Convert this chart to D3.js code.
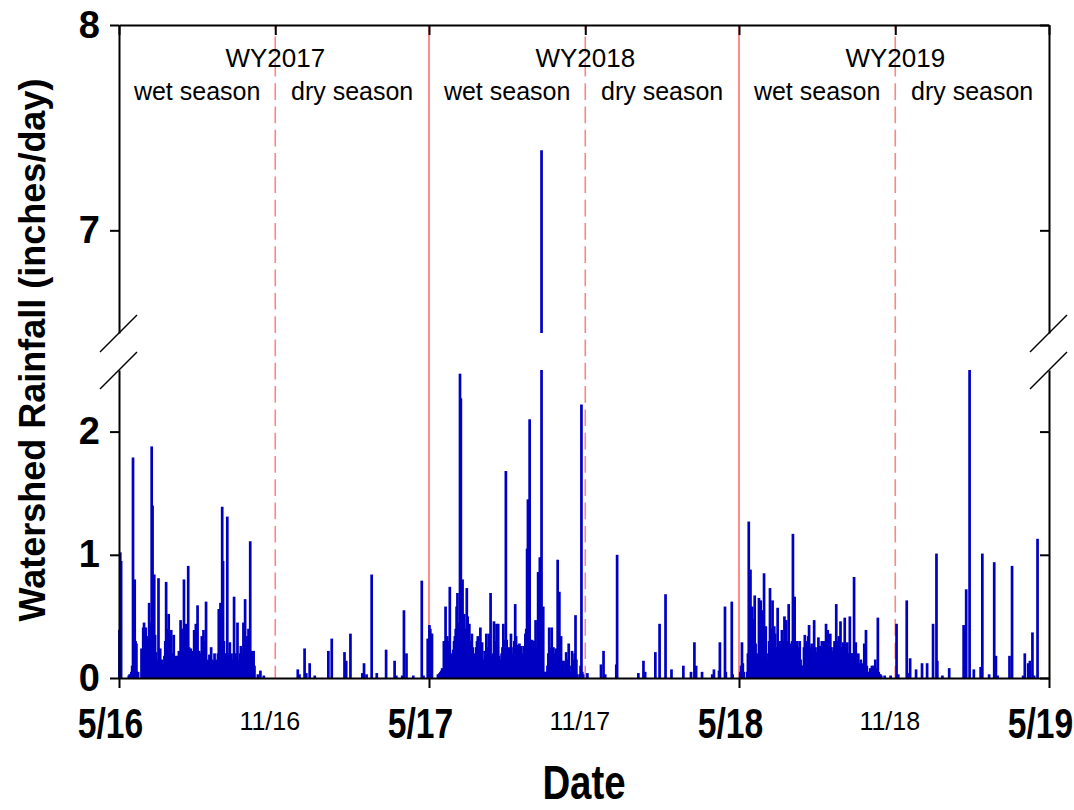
<!DOCTYPE html>
<html>
<head>
<meta charset="utf-8">
<script src="https://cdn.jsdelivr.net/npm/d3@7"></script>
<style>
  html, body { margin: 0; padding: 0; background: #ffffff; }
  svg { display: block; font-family: Arial, "Liberation Sans", Helvetica, sans-serif; }
</style>
</head>
<body>
<svg id="chart" width="1074" height="810"></svg>
<script>
// ---------------------------------------------------------------
// Daily watershed rainfall (inches/day), May 2016 - April 2019
// Wet seasons: one value per day starting May 1.
// Dry seasons: only rainy days, as day offsets from November 1.
// ---------------------------------------------------------------
const wet2016Start = "2016-05-01";
const wet2016Rain = [
  0.39, 1.02, 0.95, 0, 0, 0, 0, 0, 0, 0,
  0, 0.02, 0.03, 0.03, 0.05, 0.10, 1.79, 0.50, 0.80, 0.30,
  0.28, 0.05, 0.05, 0, 0, 0, 0.24, 0.15, 0.41, 0.45,
  0.30, 0.41, 0.20, 0.34, 0.25, 0.61, 0.30, 0.45, 1.88, 1.40,
  0.50, 0.84, 0.35, 0.21, 0.15, 0.10, 0.81, 0.20, 0.24, 0.12,
  0.15, 0.12, 0.10, 0.18, 0.30, 0.78, 0.25, 0.40, 0.52, 0.30,
  0.20, 0.39, 0.15, 0.20, 0.35, 0.12, 0.18, 0.10, 0.18, 0.12,
  0.22, 0.15, 0.47, 0.30, 0.40, 0.20, 0.80, 0.30, 0.44, 0.20,
  0.15, 0.91, 0.25, 0.20, 0.24, 0.15, 0.22, 0.12, 0.39, 0.20,
  0.44, 0.25, 0.59, 0.20, 0.22, 0.15, 0.20, 0.34, 0.20, 0.39,
  0.25, 0.30, 0.62, 0.15, 0.14, 0.12, 0.19, 0.10, 0.25, 0.15,
  0.14, 0.10, 0.20, 0.12, 0.14, 0.15, 0.20, 0.56, 0.30, 0.61,
  0.25, 1.39, 0.95, 0.30, 0.20, 0.20, 0.19, 1.31, 0.15, 0.20,
  0.29, 0.15, 0.20, 0.12, 0.15, 0.66, 0.20, 0.18, 0.20, 0.45,
  0.15, 0.10, 0.20, 0.26, 0.15, 0.20, 0.45, 0.30, 0.64, 0.20,
  0.34, 0.25, 0.40, 0.30, 1.11, 0.20, 0.22, 0.15, 0.22, 0.10,
  0, 0, 0, 0.03, 0, 0, 0.06, 0, 0, 0,
  0.02, 0, 0, 0, 0, 0, 0, 0, 0, 0,
  0, 0, 0, 0
];

const dry2017Start = "2016-11-01";
const dry2017Days = [26, 28, 34, 36, 40, 46, 62, 66, 81, 83, 88, 102, 104, 107, 113, 119, 130, 140, 142, 149, 151, 154, 162, 172, 174, 179];
const dry2017Rain = [0.07, 0.03, 0.24, 0.04, 0.12, 0.02, 0.22, 0.32, 0.21, 0.14, 0.36, 0.04, 0.12, 0.03, 0.84, 0.04, 0.23, 0.14, 0.02, 0.02, 0.55, 0.20, 0.02, 0.79, 0.02, 0.32];

const wet2017Start = "2017-05-01";
const wet2017Rain = [
  0.43, 0.40, 0.36, 0.36, 0, 0, 0, 0, 0, 0,
  0.03, 0.03, 0.04, 0.05, 0.06, 0.08, 0.06, 0.30, 0.20, 0.58,
  0.20, 0.34, 0.05, 0.30, 0.74, 0.06, 0.06, 0.20, 0.23, 0.30,
  0.34, 0.40, 0.58, 0.69, 0.20, 0.45, 2.47, 2.27, 0.50, 0.80,
  0.50, 0.52, 0.30, 0.40, 0.73, 0.50, 0.30, 0.44, 0.30, 0.20,
  0.36, 0.25, 0.13, 0.20, 0.10, 0.25, 0.30, 0.34, 0.25, 0.20,
  0.41, 0.20, 0.29, 0.15, 0.12, 0.22, 0.15, 0.36, 0.20, 0.25,
  0.36, 0.18, 0.69, 0.18, 0.12, 0.20, 0.46, 0.25, 0.30, 0.44,
  0.20, 0.44, 0.18, 0.15, 0.12, 0.20, 0.25, 0.44, 0.31, 0.20,
  1.68, 0.31, 0.20, 0.15, 0.25, 0.20, 0.36, 0.15, 0.20, 0.25,
  0.30, 0.60, 0.34, 0.20, 0.27, 0.15, 0.28, 0.20, 0.26, 0.15,
  0.20, 0.26, 0.15, 0.36, 0.40, 1.05, 1.45, 0.30, 2.10, 0.31,
  0.20, 0.31, 0.15, 0.30, 0.20, 0.47, 0.25, 0.20, 0.86, 0.40,
  0.98, 0.30, 7.39, 0.20, 0.58, 0.05, 0.05, 0, 0.05, 0.10,
  0.20, 0.41, 0.25, 0.20, 0.41, 0.15, 0.25, 0.20, 0.15, 0.24,
  0.20, 0.96, 0.30, 0.70, 0.20, 0.34, 0.14, 0.10, 0.14, 0.05,
  0.05, 0.21, 0.15, 0.10, 0.28, 0.10, 0.03, 0.05, 0.22, 0.15,
  0.10, 0.20, 0.51, 0.15, 0.03, 0, 0, 0.03, 0.10, 2.22,
  0.05, 0.03, 0, 0
];

const dry2018Start = "2017-11-01";
const dry2018Days = [2, 18, 21, 23, 36, 37, 62, 68, 70, 82, 87, 94, 101, 115, 124, 128, 130, 137, 149, 151, 157, 158, 164, 165, 172, 173];
const dry2018Rain = [0.04, 0.11, 0.22, 0.03, 0.11, 1.00, 0.04, 0.14, 0.05, 0.21, 0.44, 0.68, 0.07, 0.10, 0.05, 0.29, 0.10, 0.05, 0.03, 0.07, 0.06, 0.29, 0.58, 0.05, 0.62, 0.03];

const wet2018Start = "2018-05-01";
const wet2018Rain = [
  0, 0.05, 0.10, 0.29, 0.12, 0.05, 0, 0, 0, 0.05,
  0.20, 1.27, 0.40, 0.88, 0.30, 0.58, 0.48, 0.25, 0.67, 0.28,
  0.15, 0.20, 0.10, 0.65, 0.30, 0.63, 0.20, 0.25, 0.55, 0.85,
  0.30, 0.42, 0.20, 0.10, 0.15, 0.30, 0.73, 0.40, 0.25, 0.63,
  0.30, 0.42, 0.36, 0.20, 0.25, 0.57, 0.15, 0.07, 0.30, 0.25,
  0.39, 0.30, 0.25, 0.50, 0.30, 0.47, 0.25, 0.30, 0.60, 0.20,
  0.28, 0.25, 0.30, 1.17, 0.40, 0.66, 0.30, 0.25, 0.30, 0.25,
  0.20, 0.30, 0.15, 0.10, 0.06, 0.10, 0.25, 0.35, 0.20, 0.25,
  0.30, 0.34, 0.43, 0.25, 0.20, 0.28, 0.20, 0.15, 0.47, 0.25,
  0.20, 0.21, 0.25, 0.33, 0.20, 0.26, 0.20, 0.30, 0.25, 0.20,
  0.30, 0.25, 0.44, 0.30, 0.39, 0.25, 0.20, 0.36, 0.25, 0.22,
  0.20, 0.25, 0.30, 0.20, 0.60, 0.25, 0.30, 0.34, 0.25, 0.46,
  0.20, 0.25, 0.29, 0.20, 0.49, 0.25, 0.20, 0.29, 0.20, 0.15,
  0.50, 0.20, 0.20, 0.15, 0.20, 0.82, 0.20, 0.29, 0.15, 0.12,
  0.20, 0.12, 0.10, 0.15, 0.12, 0.10, 0.08, 0.28, 0.15, 0.39,
  0.10, 0.05, 0.03, 0.05, 0.08, 0.05, 0.10, 0.06, 0.10, 0.08,
  0.15, 0.06, 0.08, 0.49, 0.05, 0.03, 0.03, 0.02, 0, 0,
  0, 0.02, 0, 0, 0, 0, 0, 0, 0.02, 0,
  0, 0, 0, 0
];

const dry2019Start = "2018-11-01";
const dry2019Days = [1, 3, 13, 14, 17, 24, 31, 37, 44, 48, 49, 55, 63, 80, 83, 87, 92, 100, 102, 110, 116, 118, 120, 134, 137, 150, 152, 156, 158, 161, 163, 167];
const dry2019Rain = [0.44, 0.03, 0.63, 0.04, 0.16, 0.07, 0.12, 0.12, 0.44, 1.01, 0.14, 0.02, 0.08, 0.43, 0.72, 2.50, 0.07, 0.09, 1.01, 0.03, 0.94, 0.18, 0.02, 0.18, 0.91, 0.02, 0.20, 0.12, 0.14, 0.37, 0.02, 1.13];

// Axis ticks and period labels
const yearTicks = ["2016-05-01", "2017-05-01", "2018-05-01", "2019-05-01"];
const halfYearTicks = ["2016-11-01", "2017-11-01", "2018-11-01"];
const lowerTicks = [0, 1, 2];
const upperTicks = [7, 8];
const waterYears = ["WY2017", "WY2018", "WY2019"];
const seasonNames = ["wet season", "dry season"];

// ---------------------------------------------------------------
const parse = d3.utcParse("%Y-%m-%d");
const records = [];
function addDaily(start, values) {
  const s = parse(start);
  values.forEach((v, i) => records.push({ date: d3.utcDay.offset(s, i), v }));
}
function addSparse(start, days, values) {
  const s = parse(start);
  days.forEach((d, i) => records.push({ date: d3.utcDay.offset(s, d), v: values[i] }));
}
addDaily(wet2016Start, wet2016Rain);
addSparse(dry2017Start, dry2017Days, dry2017Rain);
addDaily(wet2017Start, wet2017Rain);
addSparse(dry2018Start, dry2018Days, dry2018Rain);
addDaily(wet2018Start, wet2018Rain);
addSparse(dry2019Start, dry2019Days, dry2019Rain);
const rainy = records.filter(d => d.v > 0);

const svg = d3.select("#chart");
const left = 119, right = 1049;
const lowBottom = 678, lowTop = 370, upBottom = 333, upTop = 25;

const x = d3.scaleUtc()
  .domain([parse(yearTicks[0]), parse(yearTicks[yearTicks.length - 1])])
  .range([left, right]);
const yLow = d3.scaleLinear().domain([0, 2.5]).range([lowBottom, lowTop]);
const yUp = d3.scaleLinear().domain([6.5, 8]).range([upBottom, upTop]);

const dayW = x(parse("2016-05-02")) - x(parse("2016-05-01"));
const barW = 2.7;
const cx = d => x(d.date) + dayW / 2;

// Season boundary lines
const gLines = svg.append("g");
gLines.selectAll("line.wy")
  .data(yearTicks.slice(1, -1).map(parse))
  .join("line")
  .attr("x1", d => x(d)).attr("x2", d => x(d))
  .attr("y1", upTop).attr("y2", lowBottom)
  .attr("stroke", "#ff6e6e").attr("stroke-width", 1.6);
gLines.selectAll("line.season")
  .data(halfYearTicks.map(parse))
  .join("line")
  .attr("x1", d => x(d)).attr("x2", d => x(d))
  .attr("y1", upTop).attr("y2", lowBottom)
  .attr("stroke", "#ff8585").attr("stroke-width", 1.6)
  .attr("stroke-dasharray", "16.7 6.6")
  .attr("stroke-dashoffset", 11.7);

// Rainfall bars, lower panel (0 - 2.5)
svg.append("g").selectAll("rect")
  .data(rainy)
  .join("rect")
  .attr("x", d => cx(d) - barW / 2)
  .attr("width", barW)
  .attr("y", d => yLow(Math.min(d.v, 2.5)))
  .attr("height", d => yLow(0) - yLow(Math.min(d.v, 2.5)))
  .attr("fill", "#0000c2");

// Rainfall bars, upper panel (6.5 - 8)
svg.append("g").selectAll("rect")
  .data(rainy.filter(d => d.v > 6.5))
  .join("rect")
  .attr("x", d => cx(d) - barW / 2)
  .attr("width", barW)
  .attr("y", d => yUp(Math.min(d.v, 8)))
  .attr("height", d => yUp(6.5) - yUp(Math.min(d.v, 8)))
  .attr("fill", "#0000c2");

// Axes
function styleAxis(g) {
  g.selectAll("path, line").attr("stroke", "#000").attr("stroke-width", 2);
  g.attr("font-family", null);
}
const fmt = d3.utcFormat("%-m/%y");

// bottom axis with year labels (condensed bold)
svg.append("g")
  .attr("transform", `translate(0,${lowBottom})`)
  .call(d3.axisBottom(x).tickValues(yearTicks.map(parse)).tickSize(10).tickSizeOuter(0)
    .tickPadding(20).tickFormat(fmt))
  .call(styleAxis)
  .call(g => g.selectAll("text")
    .attr("font-size", 42).attr("font-weight", "bold").attr("fill", "#000")
    .attr("transform", "translate(-9,0) scale(0.8,1)"));

// half-year labels (no ticks)
svg.append("g")
  .attr("transform", `translate(0,${lowBottom})`)
  .call(d3.axisBottom(x).tickValues(halfYearTicks.map(parse)).tickSize(0).tickPadding(34).tickFormat(fmt))
  .call(g => g.select(".domain").remove())
  .call(g => g.selectAll("text").attr("font-size", 25).attr("fill", "#000")
    .attr("transform", "translate(-6,0)"));

// top axis, inward ticks
svg.append("g")
  .attr("transform", `translate(0,${upTop})`)
  .call(d3.axisTop(x).tickValues(yearTicks.concat(halfYearTicks).map(parse)).tickSize(-10).tickSizeOuter(0).tickFormat(""))
  .call(styleAxis);

// left axes
function leftAxis(scale, ticks) {
  svg.append("g")
    .attr("transform", `translate(${left},0)`)
    .call(d3.axisLeft(scale).tickValues(ticks).tickSize(9).tickSizeOuter(0).tickPadding(10).tickFormat(d3.format("d")))
    .call(styleAxis)
    .call(g => g.selectAll("text").attr("font-size", 38).attr("font-weight", "bold").attr("fill", "#000"));
}
leftAxis(yLow, lowerTicks);
leftAxis(yUp, upperTicks);

// right axes, inward ticks
function rightAxis(scale, ticks) {
  svg.append("g")
    .attr("transform", `translate(${right},0)`)
    .call(d3.axisRight(scale).tickValues(ticks).tickSize(-9).tickSizeOuter(0).tickFormat(""))
    .call(styleAxis);
}
rightAxis(yLow, lowerTicks);
rightAxis(yUp, upperTicks);

// axis break marks
const gBreak = svg.append("g").attr("stroke", "#000").attr("stroke-width", 1.5);
[left, right].forEach(ax => {
  [upBottom, lowTop].forEach(yb => {
    gBreak.append("line")
      .attr("x1", ax - 19).attr("y1", yb + 19)
      .attr("x2", ax + 18).attr("y2", yb - 18);
  });
});

// water-year and season labels
const gLab = svg.append("g").attr("fill", "#000").attr("text-anchor", "middle");
halfYearTicks.map(parse).forEach((d, i) => {
  gLab.append("text").attr("x", x(d)).attr("y", 67).attr("font-size", 26).text(waterYears[i]);
  const ws = parse(yearTicks[i]), we = parse(yearTicks[i + 1]);
  gLab.append("text").attr("x", (x(ws) + x(d)) / 2).attr("y", 100).attr("font-size", 25).text(seasonNames[0]);
  gLab.append("text").attr("x", (x(d) + x(we)) / 2).attr("y", 100).attr("font-size", 25).text(seasonNames[1]);
});

// axis titles
svg.append("text")
  .attr("transform", `translate(${(left + right) / 2},799) scale(0.8,1)`)
  .attr("text-anchor", "middle").attr("font-size", 48).attr("font-weight", "bold")
  .text("Date");
svg.append("text")
  .attr("transform", "translate(45,350) rotate(-90)")
  .attr("text-anchor", "middle").attr("font-size", 36).attr("font-weight", "bold")
  .text("Watershed Rainfall (inches/day)");
</script>
</body>
</html>
